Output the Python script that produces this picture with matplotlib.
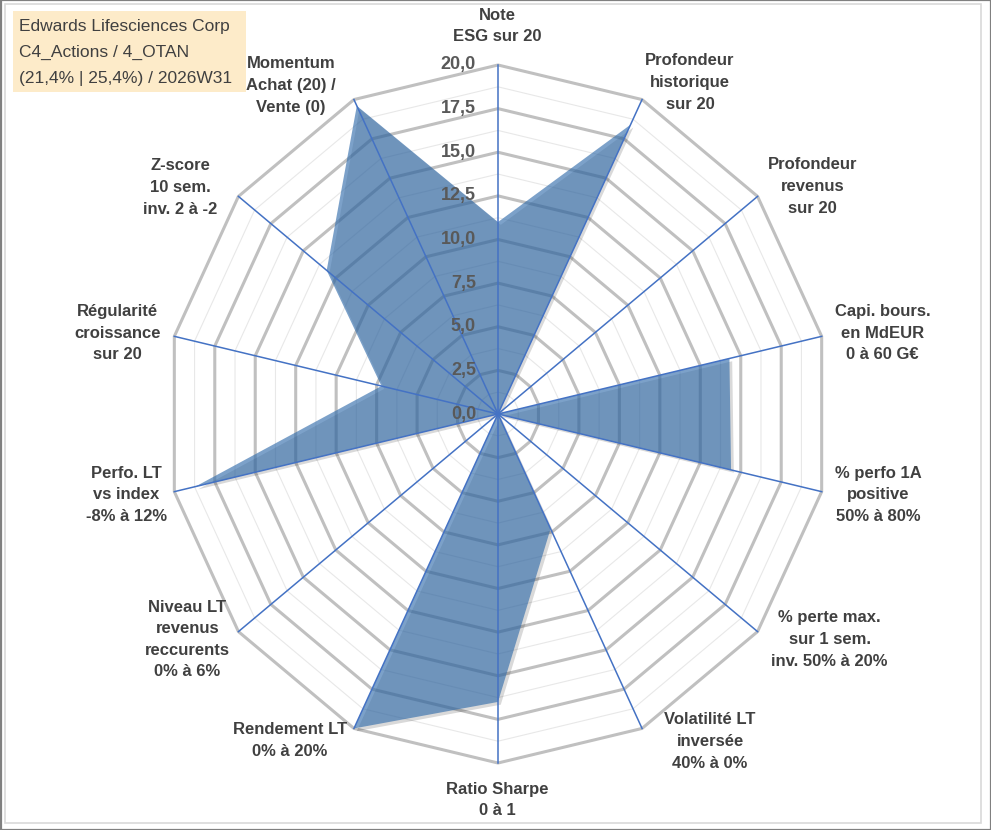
import numpy as np
import matplotlib
matplotlib.use("Agg")
import matplotlib.pyplot as plt
from matplotlib.patches import Rectangle, Polygon
import matplotlib.patheffects as pe

plt.rcParams['font.family'] = ['Liberation Sans', 'DejaVu Sans']

# --- chart data ---
axis_labels = [
    "Note\nESG sur 20",
    "Profondeur\nhistorique\nsur 20",
    "Profondeur\nrevenus\nsur 20",
    "Capi. bours.\nen MdEUR\n0 à 60 G€",
    "% perfo 1A\npositive\n50% à 80%",
    "% perte max.\nsur 1 sem.\ninv. 50% à 20%",
    "Volatilité LT\ninversée\n40% à 0%",
    "Ratio Sharpe\n0 à 1",
    "Rendement LT\n0% à 20%",
    "Niveau LT\nrevenus\nreccurents\n0% à 6%",
    "Perfo. LT\nvs index\n-8% à 12%",
    "Régularité\ncroissance\nsur 20",
    "Z-score\n10 sem.\ninv. 2 à -2",
    "Momentum\nAchat (20) /\nVente (0)",
]
scores = [11.0, 18.4, 0.0, 14.3, 14.4, 0.0, 7.3, 16.5, 20.0, 0.0, 18.7, 7.2, 13.2, 19.6]
ticks = [0.0, 2.5, 5.0, 7.5, 10.0, 12.5, 15.0, 17.5, 20.0]
title_lines = ["Edwards Lifesciences Corp", "C4_Actions / 4_OTAN", "(21,4% | 25,4%) / 2026W31"]

# label placement (pixel offsets of the label centre from each spoke end)
label_offsets = [(-1, 39), (48, 17), (55, 10), (61, 3), (57, -3), (72, -8), (68, -13),
                 (-1, -37), (-64, -12), (-51, -8), (-48, -3), (-57, 3), (-58, 9), (-63, 14)]

W, H = 991, 830
cx, cy = 498, 414          # centre of the radar in pixels
kx, ky = 332 / 20, 349 / 20  # pixels per unit (chart is slightly squashed horizontally)
vmax = 20

fig = plt.figure(figsize=(W / 100, H / 100), dpi=100)
ax = fig.add_axes([0, 0, 1, 1])
ax.set_xlim(-cx / kx, (W - cx) / kx)
ax.set_ylim(-(H - cy) / ky, cy / ky)
ax.axis('off')

n = len(axis_labels)
theta = 2 * np.pi * np.arange(n) / n
sx, sy = np.sin(theta), np.cos(theta)

# grid rings: minor (half steps) then major
for r in np.arange(1.25, vmax, 2.5):
    ax.add_patch(Polygon(np.c_[r * sx, r * sy], closed=True, fill=False,
                         edgecolor='#E8E8E8', lw=0.8, zorder=1))
for r in ticks[1:]:
    ax.add_patch(Polygon(np.c_[r * sx, r * sy], closed=True, fill=False,
                         edgecolor='#C0C0C0', lw=2.2, zorder=2))

# series
vals = np.array(scores)
shape = Polygon(np.c_[vals * sx, vals * sy], closed=True, facecolor='#336DAB',
                alpha=0.64, edgecolor='none', zorder=3)
shape.set_path_effects([pe.SimplePatchShadow(offset=(2, -2), shadow_rgbFace='#000000', alpha=0.15),
                        pe.Normal()])
ax.add_patch(shape)

# spokes
for k in range(n):
    ax.plot([0, vmax * sx[k]], [0, vmax * sy[k]], color='#4472C4', lw=1.1, zorder=4)

# radial tick labels
for t in ticks:
    ax.annotate(f"{t:.1f}".replace('.', ','), xy=(0, t), xytext=(-22, 0),
                textcoords='offset pixels', ha='right', va='center',
                fontsize=13, fontweight='bold', color='#595959', zorder=5)

# category labels
for k in range(n):
    ax.annotate(axis_labels[k], xy=(vmax * sx[k], vmax * sy[k]), xytext=label_offsets[k],
                textcoords='offset pixels', ha='center', va='center', multialignment='center',
                fontsize=12, fontweight='bold', color='#404040', linespacing=1.55, zorder=5)

# title box
fig.patches.append(Rectangle((13 / W, 1 - 92 / H), 233 / W, 81 / H, transform=fig.transFigure,
                             facecolor='#FDEBC9', edgecolor='none', zorder=0))
fig.text(19 / W, 1 - 52.5 / H, "\n".join(title_lines), ha='left', va='center',
         fontsize=12.5, color='#404040', linespacing=1.9)

# chart borders
fig.patches.append(Rectangle((5 / W, 7 / H), 976 / W, 819 / H, transform=fig.transFigure,
                             fill=False, edgecolor='#D9D9D9', lw=1.2))
fig.patches.append(Rectangle((0.5 / W, 0.5 / H), 1 - 1 / W, 1 - 1 / H, transform=fig.transFigure,
                             fill=False, edgecolor='#808080', lw=1.6))

fig.savefig("out.png", dpi=100)
